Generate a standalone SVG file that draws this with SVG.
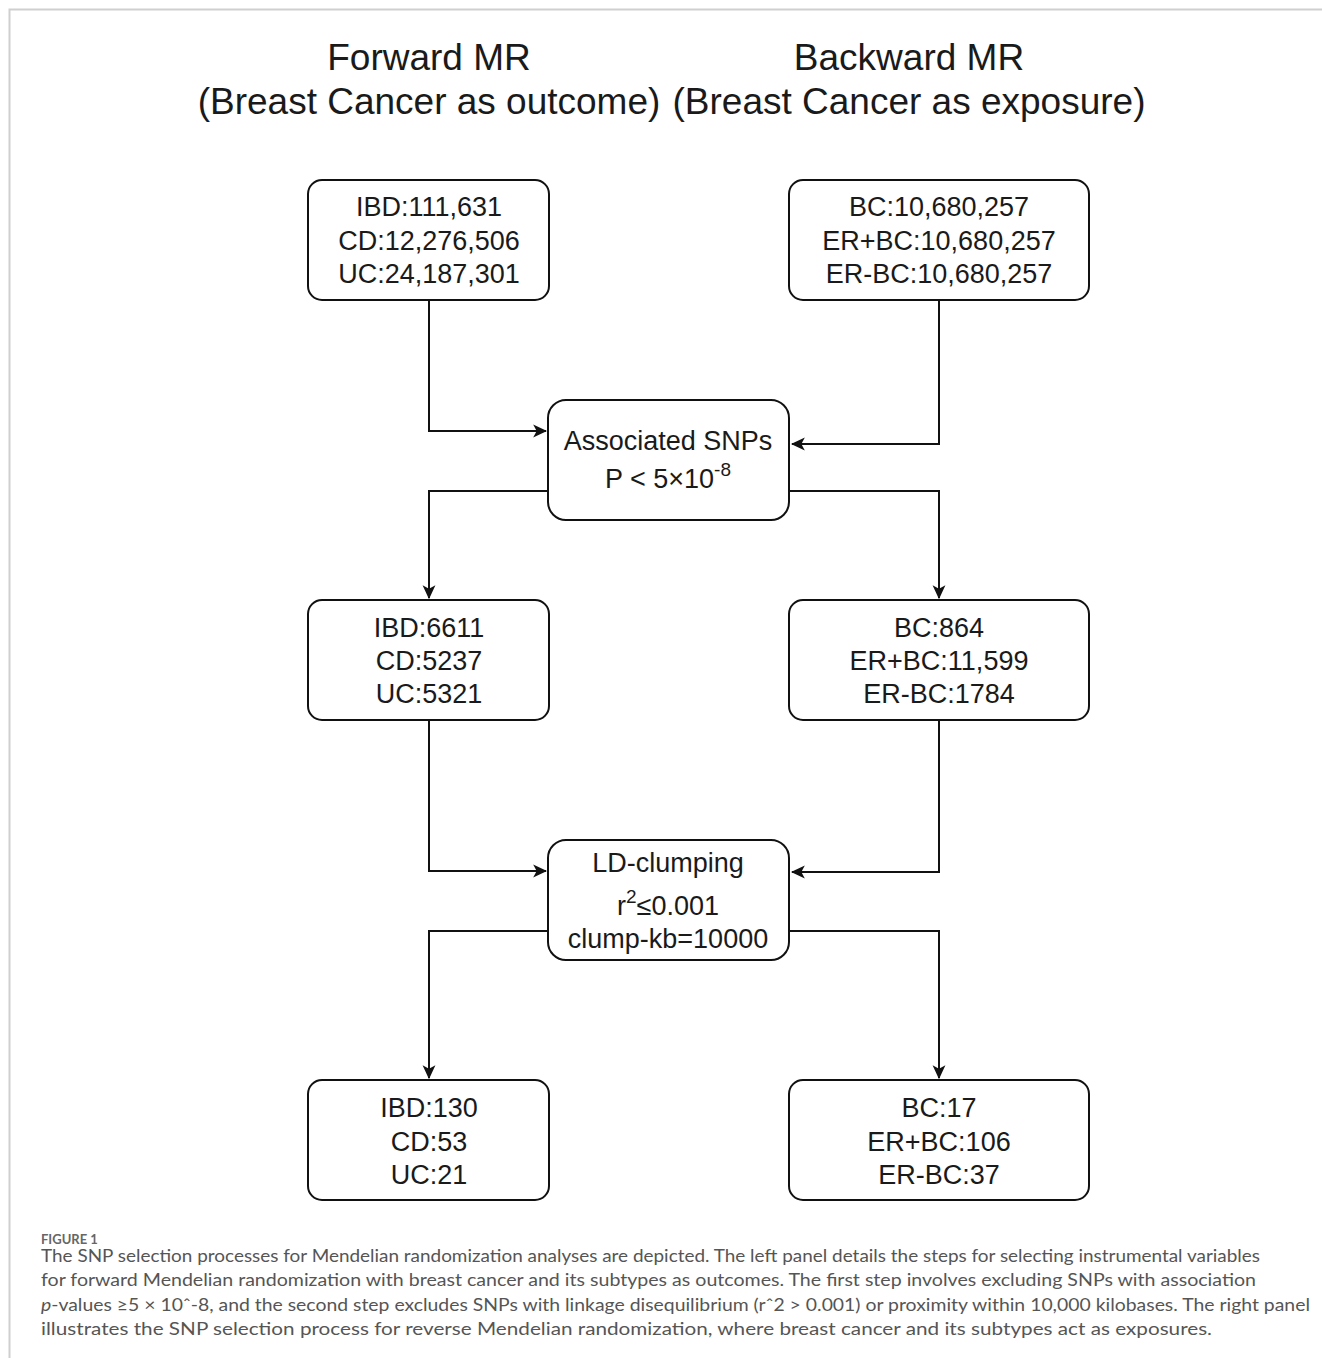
<svg xmlns="http://www.w3.org/2000/svg" width="1322" height="1358" viewBox="0 0 1322 1358">
<style>
.box{fill:#fff;stroke:#111;stroke-width:2}
.t{font-family:"Liberation Sans",Arial,sans-serif;font-size:27px;fill:#1a1a1a;text-anchor:middle}
.h{font-family:"Liberation Sans",Arial,sans-serif;font-size:37px;fill:#1a1a1a;text-anchor:middle}
.c{fill:none;stroke:#111;stroke-width:2}
.cap{font-family:"Lato","Liberation Sans",sans-serif;font-size:17px;fill:#555}
</style>
<defs>
<marker id="arr" viewBox="0 0 12 12" refX="11" refY="6" markerWidth="14" markerHeight="14" markerUnits="userSpaceOnUse" orient="auto">
<path d="M0,0.5 L12,6 L0,11.5 L3,6 z" fill="#111"/>
</marker>
</defs>
<rect width="1322" height="1358" fill="#fff"/>
<path d="M9.5,1358 V9.5 H1322" fill="none" stroke="#cfcfcf" stroke-width="2"/>
<g id="headers">
<text class="h" x="429" y="70">Forward MR</text>
<text class="h" x="429" y="114">(Breast Cancer as outcome)</text>
<text class="h" x="909" y="70">Backward MR</text>
<text class="h" x="909" y="114">(Breast Cancer as exposure)</text>
</g>
<g id="connectors">
<path class="c" d="M429,300 V431 H546" marker-end="url(#arr)"/>
<path class="c" d="M939,300 V444 H792" marker-end="url(#arr)"/>
<path class="c" d="M548,491 H429 V598" marker-end="url(#arr)"/>
<path class="c" d="M789,491 H939 V598" marker-end="url(#arr)"/>
<path class="c" d="M429,720 V871 H546" marker-end="url(#arr)"/>
<path class="c" d="M939,720 V872 H792" marker-end="url(#arr)"/>
<path class="c" d="M548,931 H429 V1078" marker-end="url(#arr)"/>
<path class="c" d="M789,931 H939 V1078" marker-end="url(#arr)"/>
</g>
<g id="n_fwd_start">
<rect class="box" x="308" y="180" width="241" height="120" rx="14"/>
<text class="t" x="429" y="216">IBD:111,631</text>
<text class="t" x="429" y="250">CD:12,276,506</text>
<text class="t" x="429" y="283">UC:24,187,301</text>
</g>
<g id="n_bwd_start">
<rect class="box" x="789" y="180" width="300" height="120" rx="14"/>
<text class="t" x="939" y="216">BC:10,680,257</text>
<text class="t" x="939" y="250">ER+BC:10,680,257</text>
<text class="t" x="939" y="283">ER-BC:10,680,257</text>
</g>
<g id="n_assoc">
<rect class="box" x="548" y="400" width="241" height="120" rx="18"/>
<text class="t" x="668" y="450">Associated SNPs</text>
<text class="t" x="668" y="488">P &lt; 5×10<tspan font-size="19" dy="-12">-8</tspan></text>
</g>
<g id="n_fwd_mid">
<rect class="box" x="308" y="600" width="241" height="120" rx="14"/>
<text class="t" x="429" y="637">IBD:6611</text>
<text class="t" x="429" y="670">CD:5237</text>
<text class="t" x="429" y="703">UC:5321</text>
</g>
<g id="n_bwd_mid">
<rect class="box" x="789" y="600" width="300" height="120" rx="14"/>
<text class="t" x="939" y="637">BC:864</text>
<text class="t" x="939" y="670">ER+BC:11,599</text>
<text class="t" x="939" y="703">ER-BC:1784</text>
</g>
<g id="n_ld">
<rect class="box" x="548" y="840" width="241" height="120" rx="18"/>
<text class="t" x="668" y="872">LD-clumping</text>
<text class="t" x="668" y="915">r<tspan font-size="19" dy="-12">2</tspan><tspan dy="12">≤0.001</tspan></text>
<text class="t" x="668" y="948">clump-kb=10000</text>
</g>
<g id="n_fwd_end">
<rect class="box" x="308" y="1080" width="241" height="120" rx="14"/>
<text class="t" x="429" y="1117">IBD:130</text>
<text class="t" x="429" y="1151">CD:53</text>
<text class="t" x="429" y="1184">UC:21</text>
</g>
<g id="n_bwd_end">
<rect class="box" x="789" y="1080" width="300" height="120" rx="14"/>
<text class="t" x="939" y="1117">BC:17</text>
<text class="t" x="939" y="1151">ER+BC:106</text>
<text class="t" x="939" y="1184">ER-BC:37</text>
</g>
<g id="caption">
<text x="41" y="1244" font-family="Lato,'Liberation Sans',sans-serif" font-size="13" font-weight="bold" fill="#666">FIGURE 1</text>
<text class="cap" x="41" y="1262" textLength="1219" lengthAdjust="spacingAndGlyphs">The SNP selection processes for Mendelian randomization analyses are depicted. The left panel details the steps for selecting instrumental variables</text>
<text class="cap" x="41" y="1286" textLength="1215" lengthAdjust="spacingAndGlyphs">for forward Mendelian randomization with breast cancer and its subtypes as outcomes. The first step involves excluding SNPs with association</text>
<text class="cap" x="41" y="1311" textLength="1269" lengthAdjust="spacingAndGlyphs"><tspan font-style="italic">p</tspan>-values ≥5 × 10ˆ-8, and the second step excludes SNPs with linkage disequilibrium (rˆ2 &gt; 0.001) or proximity within 10,000 kilobases. The right panel</text>
<text class="cap" x="41" y="1335" textLength="1171" lengthAdjust="spacingAndGlyphs">illustrates the SNP selection process for reverse Mendelian randomization, where breast cancer and its subtypes act as exposures.</text>
</g>
</svg>
